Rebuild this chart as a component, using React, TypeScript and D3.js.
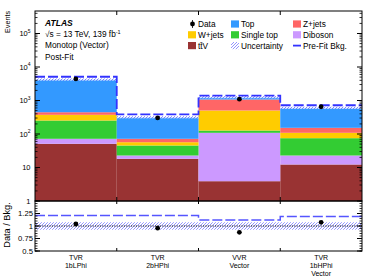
import React from "react";
import * as d3 from "d3";

const categories = ["TVR 1bLPhi", "TVR 2bHPhi", "VVR Vector", "TVR 1bHPhi Vector"];
const binLabels = [["TVR", "1bLPhi"], ["TVR", "2bHPhi"], ["VVR", "Vector"], ["TVR", "1bHPhi", "Vector"]];

const ttV = [51, 18.2, 3.9, 12.3];
const diboson = [21, 4.6, 104.7, 10.5];
const singleTop = [181, 22.6, 18.4, 52.2];
const wjets = [121, 11.5, 376, 33.6];
const zjets = [73, 15, 568, 44.4];
const top = [3788, 245, 185, 453];
const dataVals = [4404, 303, 1098, 651];
const prefit = [5124, 384, 1407, 721];
const relUnc = [0.075, 0.075, 0.075, 0.075];

const yMajor = [1, 10, 100, 1000, 10000, 100000];
const ratioTicks = [0.5, 0.75, 1, 1.25];

const seriesKeys = ["ttV", "Diboson", "Single top", "W+jets", "Z+jets", "Top"];
const seriesVals: Record<string, number[]> = {
  ttV: ttV,
  Diboson: diboson,
  "Single top": singleTop,
  "W+jets": wjets,
  "Z+jets": zjets,
  Top: top,
};
const colors: Record<string, string> = {
  ttV: "#993333",
  Diboson: "#cc99ff",
  "Single top": "#33cc33",
  "W+jets": "#ffcc00",
  "Z+jets": "#ff6666",
  Top: "#3399ff",
};

const FONT = "'Liberation Sans', Arial, Helvetica, sans-serif";
const PREFIT = "#3333ff";

export default function App() {
  const L = 35, R = 362, T = 11, MB = 201, RB = 251;
  const x = d3.scaleBand().domain(categories).range([L, R]).paddingInner(0).paddingOuter(0);
  const y = d3.scaleLog().domain([1, Math.pow(10, 5.672)]).range([MB, T]);
  const yr = d3.scaleLinear().domain([0.5, 1.5]).range([RB, MB]);

  const table = categories.map((c, i) => {
    const row: any = { cat: c };
    seriesKeys.forEach((k) => (row[k] = seriesVals[k][i]));
    return row;
  });
  const stack = d3.stack().keys(seriesKeys)(table);
  const totals = categories.map((_, i) => seriesKeys.reduce((s, k) => s + seriesVals[k][i], 0));
  const bw = x.bandwidth();

  const stepPts = categories.map((c, i) => [x(c)!, prefit[i]] as [number, number]);
  stepPts.push([R, prefit[prefit.length - 1]]);
  const mainStep = d3.line<[number, number]>().x((d) => d[0]).y((d) => y(d[1])).curve(d3.curveStepAfter)(stepPts)!;
  const ratioPts = categories.map((c, i) => [x(c)!, prefit[i] / totals[i]] as [number, number]);
  ratioPts.push([R, prefit[prefit.length - 1] / totals[totals.length - 1]]);
  const ratioStep = d3.line<[number, number]>().x((d) => d[0]).y((d) => yr(d[1])).curve(d3.curveStepAfter)(ratioPts)!;

  const minorMain: number[] = [];
  for (let e = 0; e <= 5; e++) for (let m = 2; m <= 9; m++) {
    const v = m * Math.pow(10, e);
    if (v < y.domain()[1]) minorMain.push(v);
  }
  const minorRatio = d3.range(0.5, 1.5001, 0.05);
  const edges = [x(categories[1])!, x(categories[2])!, x(categories[3])!];

  const legend = [
    { col: 0, row: 0, label: "Data", type: "data" },
    { col: 1, row: 0, label: "Top", type: "box", color: colors["Top"] },
    { col: 2, row: 0, label: "Z+jets", type: "box", color: colors["Z+jets"] },
    { col: 0, row: 1, label: "W+jets", type: "box", color: colors["W+jets"] },
    { col: 1, row: 1, label: "Single top", type: "box", color: colors["Single top"] },
    { col: 2, row: 1, label: "Diboson", type: "box", color: colors["Diboson"] },
    { col: 0, row: 2, label: "tt\u0304V", type: "box", color: colors["ttV"] },
    { col: 1, row: 2, label: "Uncertainty", type: "hatch" },
    { col: 2, row: 2, label: "Pre-Fit Bkg.", type: "line" },
  ];
  const colX = [188, 231, 293];
  const rowY = [24, 34.8, 45.6];

  return (
    <svg width={374} height={280} style={{ position: "absolute", left: 0, top: 0, background: "#fff" }} fontFamily={FONT}>
      <defs>
        <pattern id="hatch" patternUnits="userSpaceOnUse" width={3} height={3}>
          <path d="M-1,1 l2,-2 M0,3 l3,-3 M2,4 l2,-2" stroke="#7777ff" strokeWidth={0.8} />
        </pattern>
        <pattern id="hatchW" patternUnits="userSpaceOnUse" width={3} height={3}>
          <rect width={3} height={3} fill="#ffffff" opacity={0.7} />
          <path d="M-1,1 l2,-2 M0,3 l3,-3 M2,4 l2,-2" stroke="#6666ff" strokeWidth={0.8} />
        </pattern>
        <clipPath id="mainClip"><rect x={L} y={T} width={R - L} height={MB - T} /></clipPath>
      </defs>

      <g clipPath="url(#mainClip)">
        {stack.map((s) => (
          <g key={s.key} fill={colors[s.key]}>
            {s.map((d, i) => {
              const lo = Math.max(d[0], 1);
              return <rect key={i} x={x(categories[i])} width={bw} y={y(d[1])} height={Math.max(0, y(lo) - y(d[1]))} />;
            })}
          </g>
        ))}
        {totals.map((t, i) => (
          <rect key={i} x={x(categories[i])} width={bw} y={y(t * (1 + relUnc[i]))} height={y(t * (1 - relUnc[i])) - y(t * (1 + relUnc[i]))} fill="url(#hatchW)" />
        ))}
        <path d={mainStep} fill="none" stroke={PREFIT} strokeWidth={1.8} strokeDasharray="10,3" />
        {dataVals.map((v, i) => (
          <circle key={i} cx={x(categories[i])! + bw / 2} cy={y(v)} r={2.4} fill="#000" />
        ))}
      </g>

      {totals.map((t, i) => (
        <rect key={i} x={x(categories[i])} width={bw} y={yr(1 + relUnc[i])} height={yr(1 - relUnc[i]) - yr(1 + relUnc[i])} fill="url(#hatch)" />
      ))}
      <line x1={L} x2={R} y1={yr(1)} y2={yr(1)} stroke="#000" strokeWidth={0.9} strokeDasharray="1.2,1.2" />
      <path d={ratioStep} fill="none" stroke="#5555ff" strokeWidth={1.5} strokeDasharray="10,3" />
      {dataVals.map((v, i) => (
        <circle key={i} cx={x(categories[i])! + bw / 2} cy={yr(v / totals[i])} r={2.4} fill="#000" />
      ))}

      <rect x={L} y={T} width={R - L} height={MB - T} fill="none" stroke="#000" strokeWidth={1} />
      <rect x={L} y={MB} width={R - L} height={RB - MB} fill="none" stroke="#000" strokeWidth={1} />

      {yMajor.map((v) => (
        <g key={v}>
          <line x1={L} x2={L + 5} y1={y(v)} y2={y(v)} stroke="#000" />
          <line x1={R} x2={R - 5} y1={y(v)} y2={y(v)} stroke="#000" />
          <text x={30.5} y={y(v) + 2.5} fontSize={7.5} textAnchor="end">
            {v === 1 ? "1" : v === 10 ? "10" : (
              <>
                <tspan>10</tspan>
                <tspan fontSize={5} dy={-3.5}>{String(Math.round(Math.log10(v)))}</tspan>
              </>
            )}
          </text>
        </g>
      ))}
      {minorMain.map((v) => (
        <g key={v}>
          <line x1={L} x2={L + 2.5} y1={y(v)} y2={y(v)} stroke="#000" strokeWidth={0.8} />
          <line x1={R} x2={R - 2.5} y1={y(v)} y2={y(v)} stroke="#000" strokeWidth={0.8} />
        </g>
      ))}

      {ratioTicks.map((v) => (
        <g key={v}>
          <line x1={L} x2={L + 5} y1={yr(v)} y2={yr(v)} stroke="#000" />
          <line x1={R} x2={R - 5} y1={yr(v)} y2={yr(v)} stroke="#000" />
          <text x={33} y={yr(v) + 2.7} fontSize={7.7} textAnchor="end">{String(v)}</text>
        </g>
      ))}
      {minorRatio.map((v, i) => (
        <g key={i}>
          <line x1={L} x2={L + 2.5} y1={yr(v)} y2={yr(v)} stroke="#000" strokeWidth={0.8} />
          <line x1={R} x2={R - 2.5} y1={yr(v)} y2={yr(v)} stroke="#000" strokeWidth={0.8} />
        </g>
      ))}

      {edges.map((ex, i) => (
        <g key={i} stroke="#000">
          <line x1={ex} x2={ex} y1={T} y2={T + 4} />
          <line x1={ex} x2={ex} y1={MB} y2={MB - 4} />
          <line x1={ex} x2={ex} y1={MB} y2={MB + 3} />
          <line x1={ex} x2={ex} y1={RB} y2={RB - 3} />
        </g>
      ))}

      {binLabels.map((lines, i) => (
        <text key={i} x={x(categories[i])! + bw / 2} fontSize={7} textAnchor="middle">
          {lines.map((ln, j) => (
            <tspan key={j} x={x(categories[i])! + bw / 2} y={259.5 + j * 8}>{ln}</tspan>
          ))}
        </text>
      ))}

      <text transform={`translate(9.5,${T}) rotate(-90)`} fontSize={7.2} textAnchor="end">Events</text>
      <text transform={`translate(10,${(MB + RB) / 2 - 1}) rotate(-90)`} fontSize={9.2} textAnchor="middle">Data / Bkg.</text>

      <text x={45} y={26.3} fontSize={8.5} fontWeight="bold" fontStyle="italic">ATLAS</text>
      <text x={45} y={37} fontSize={8.3}>
        √s = 13 TeV, 139 fb<tspan fontSize={5.5} dy={-3}>-1</tspan>
      </text>
      <text x={45} y={48.3} fontSize={8.3}>Monotop (Vector)</text>
      <text x={45} y={59.8} fontSize={8.3}>Post-Fit</text>

      {legend.map((e, i) => {
        const x0 = colX[e.col];
        const yc = rowY[e.row];
        return (
          <g key={i}>
            {e.type === "data" && (
              <>
                <line x1={x0 + 4.5} x2={x0 + 4.5} y1={yc - 4} y2={yc + 4} stroke="#000" strokeWidth={0.8} />
                <circle cx={x0 + 4.5} cy={yc} r={2.4} fill="#000" />
              </>
            )}
            {e.type === "box" && <rect x={x0} y={yc - 3.6} width={8} height={7.2} fill={e.color} />}
            {e.type === "hatch" && <rect x={x0} y={yc - 3.6} width={8} height={7.2} fill="url(#hatch)" />}
            {e.type === "line" && <line x1={x0} x2={x0 + 8} y1={yc} y2={yc} stroke={PREFIT} strokeWidth={1.8} />}
            <text x={x0 + 10} y={yc + 3} fontSize={8.3}>{e.label}</text>
          </g>
        );
      })}
    </svg>
  );
}
